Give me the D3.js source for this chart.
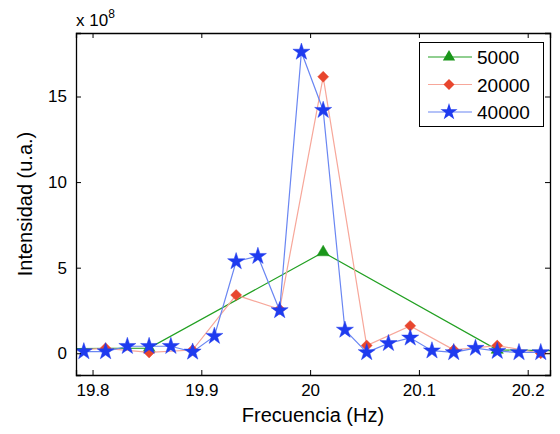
<!DOCTYPE html>
<html><head><meta charset="utf-8">
<script src="https://cdn.jsdelivr.net/npm/d3@7"></script>
<style>body{margin:0;background:#fff}text{font-family:"Liberation Sans",Arial,sans-serif}</style>
</head><body><svg id="c" width="560" height="434"></svg>
<script>
const freqBlue = [19.792,19.812,19.832,19.852,19.872,19.892,19.912,19.932,19.952,19.972,19.992,20.012,20.032,20.052,20.072,20.092,20.112,20.132,20.152,20.172,20.192,20.212];
const blueVals = [0.10,0.10,0.41,0.41,0.41,0.08,1.0,5.36,5.67,2.5,17.6,14.2,1.36,0.05,0.58,0.9,0.15,0.05,0.3,0.12,0.05,0.05];
const freqRed = [19.772,19.812,19.852,19.892,19.932,19.972,20.012,20.052,20.092,20.132,20.172,20.212,20.252];
const redVals = [0.15,0.29,0.05,0.19,3.4,2.57,16.15,0.45,1.6,0.2,0.45,0.0,0.0];
const freqGreen = [19.692,19.852,20.012,20.172,20.332];
const greenVals = [0.25,0.3,5.9,0.2,0.05];
const seriesNames = ["5000","20000","40000"];
const xTicks = [19.8,19.9,20,20.1,20.2];
const yTicks = [0,5,10,15];

const svg = d3.select("#c");
const L=76,R=550,T=33,B=375;
const x = d3.scaleLinear().domain([19.7848,20.2205]).range([L,R]);
const y = d3.scaleLinear().domain([-1.27,18.71]).range([B,T]);

svg.append("defs").append("clipPath").attr("id","clip").append("rect")
  .attr("x",L).attr("y",T).attr("width",R-L).attr("height",B-T);

const squareDiamond = {draw(ctx,size){const r=Math.sqrt(size/2);ctx.moveTo(0,-r);ctx.lineTo(r,0);ctx.lineTo(0,r);ctx.lineTo(-r,0);ctx.closePath();}};

const series = [
  {name:seriesNames[0], xs:freqGreen, ys:greenVals, line:"#22a022", mark:"#1a961a", sym:d3.symbolTriangle, size:65},
  {name:seriesNames[1], xs:freqRed, ys:redVals, line:"#f7a79a", mark:"#e8462e", sym:squareDiamond, size:60},
  {name:seriesNames[2], xs:freqBlue, ys:blueVals, line:"#6a86f2", mark:"#1f3bef", sym:d3.symbolStar, size:90}
];

const g = svg.append("g").attr("clip-path","url(#clip)");
series.forEach(s=>{
  const pts = s.xs.map((v,i)=>[v,s.ys[i]]);
  g.append("path").datum(pts)
    .attr("d", d3.line().x(d=>x(d[0])).y(d=>y(d[1])))
    .attr("fill","none").attr("stroke",s.line).attr("stroke-width",1.2);
  g.selectAll(null).data(pts).enter().append("path")
    .attr("transform",d=>`translate(${x(d[0])},${y(d[1])})`)
    .attr("d", d3.symbol().type(s.sym).size(s.size))
    .attr("fill",s.mark).attr("stroke",s.mark).attr("stroke-width",0.8).attr("stroke-opacity",0.6);
});

const ax = svg.append("g");
const bottom = d3.axisBottom(x).tickValues(xTicks).tickSize(-5).tickPadding(9).tickFormat(d3.format(""));
const left = d3.axisLeft(y).tickValues(yTicks).tickSize(-5).tickPadding(9).tickFormat(d3.format(""));
ax.append("g").attr("transform",`translate(0,${B})`).call(bottom);
ax.append("g").attr("transform",`translate(${L},0)`).call(left);
ax.append("g").attr("transform",`translate(0,${T})`).call(d3.axisTop(x).tickValues(xTicks).tickSize(-5).tickFormat(""));
ax.append("g").attr("transform",`translate(${R},0)`).call(d3.axisRight(y).tickValues(yTicks).tickSize(-5).tickFormat(""));
ax.selectAll(".domain").attr("stroke","#000").attr("stroke-width",1.3);
ax.selectAll(".tick line").attr("stroke","#000");
ax.selectAll(".tick text").attr("font-size",17).attr("fill","#000").attr("font-family","Liberation Sans, Arial, sans-serif");

svg.append("text").attr("x",313).attr("y",422).attr("text-anchor","middle").attr("font-size",20).text("Frecuencia (Hz)");
svg.append("text").attr("transform","translate(32,204) rotate(-90)").attr("text-anchor","middle").attr("font-size",20).text("Intensidad (u.a.)");
const ex = svg.append("text").attr("x",76).attr("y",26).attr("font-size",17);
ex.append("tspan").text("x 10");
ex.append("tspan").attr("dy",-8).attr("font-size",12).text("8");

const lg = svg.append("g");
lg.append("rect").attr("x",419.5).attr("y",42.5).attr("width",124).attr("height",84).attr("fill","#fff").attr("stroke","#000").attr("stroke-width",1);
series.forEach((s,i)=>{
  const yy = 57+i*27.5;
  lg.append("line").attr("x1",428).attr("x2",472).attr("y1",yy).attr("y2",yy).attr("stroke",s.line).attr("stroke-width",1.2);
  lg.append("path").attr("transform",`translate(449,${yy})`).attr("d",d3.symbol().type(s.sym).size(s.size)).attr("fill",s.mark);
  lg.append("text").attr("x",477).attr("y",yy+7).attr("font-size",19).text(s.name);
});
</script></body></html>
